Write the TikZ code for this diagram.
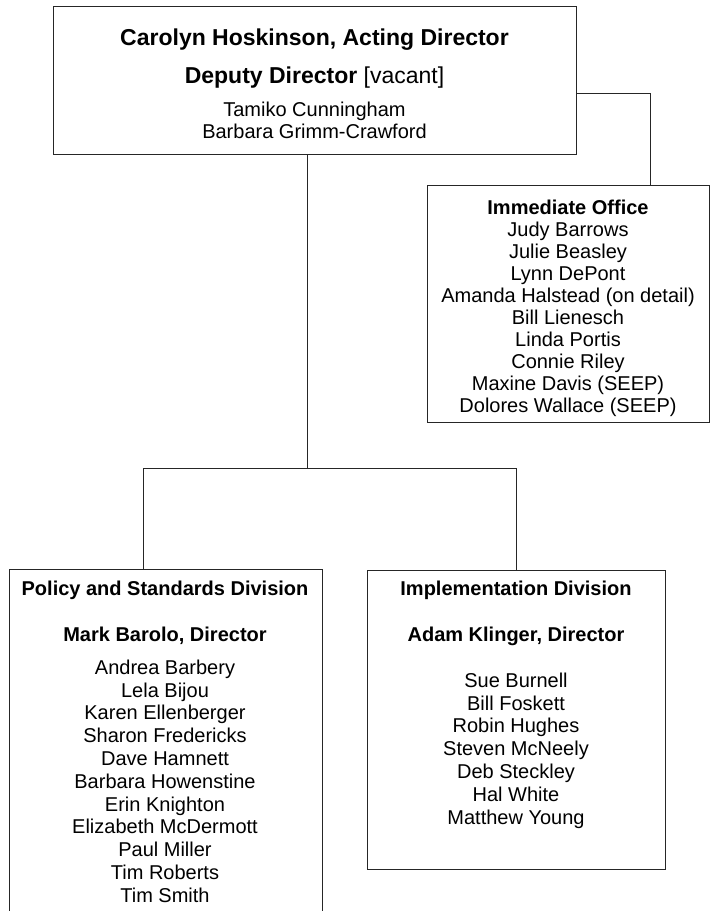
\documentclass[tikz,border=0pt]{standalone}
\usepackage{fontspec}
\setmainfont{Liberation Sans}
\begin{document}
\begin{tikzpicture}[x=1pt,y=-1pt,
  box/.style={draw=black!85, line width=1pt, rectangle, inner sep=0pt, outer sep=0pt},
  openbox/.style={rectangle, inner sep=0pt, outer sep=0pt},
  big/.style={font=\fontsize{23}{26}\selectfont, anchor=base, inner sep=0pt},
  bigb/.style={font=\fontsize{23}{26}\selectfont\bfseries, anchor=base, inner sep=0pt},
  txt/.style={font=\fontsize{20}{22}\selectfont, anchor=base, inner sep=0pt},
  hd/.style={font=\fontsize{20}{22}\selectfont\bfseries, anchor=base, inner sep=0pt},
  conn/.style={draw=black!85, line width=1pt}]
\fill[white] (0,0) rectangle (713,911);
\useasboundingbox (0,0) rectangle (713,911);

% top box
\node[box, minimum width=523pt, minimum height=148pt] (top) at (314.5,80) {};
\node[bigb] (t1) at (314.5,45.2) {Carolyn Hoskinson, Acting Director};
\node[big] (t2) at (314.5,83.2) {\textbf{Deputy Director} [vacant]};
\node[txt] (t3) at (314.5,116.2) {Tamiko Cunningham};
\node[txt] (t4) at (314.5,138.2) {Barbara Grimm-Crawford};

% immediate office
\node[box, minimum width=282pt, minimum height=237pt] (io) at (568,303.5) {};
\node[hd] (ioh) at (568,214.2) {Immediate Office};
\foreach \n [count=\i from 0] in {Judy Barrows, Julie Beasley, Lynn DePont,
  Amanda Halstead (on detail), Bill Lienesch, Linda Portis, Connie Riley,
  Maxine Davis (SEEP), Dolores Wallace (SEEP)}
  \node[txt] (io\i) at (568,{236.2+22*\i}) {\n};

% policy division (open at the bottom)
\node[openbox, minimum width=313pt, minimum height=343pt] (pol) at (165.5,740.5) {};
\draw[conn] (pol.south west) |- (pol.north east) -- (pol.south east);
\node[hd] (polh) at (165,595.2) {Policy and Standards Division};
\node[hd] (pold) at (165,641.2) {Mark Barolo, Director};
\foreach \n [count=\i from 0] in {Andrea Barbery, Lela Bijou, Karen Ellenberger,
  Sharon Fredericks, Dave Hamnett, Barbara Howenstine, Erin Knighton,
  Elizabeth McDermott, Paul Miller, Tim Roberts, Tim Smith}
  \node[txt] (pol\i) at (165,{674.2+22.8*\i}) {\n};

% implementation division
\node[box, minimum width=298pt, minimum height=299pt] (imp) at (516,719.5) {};
\node[hd] (imph) at (516,595.2) {Implementation Division};
\node[hd] (impd) at (516,641.2) {Adam Klinger, Director};
\foreach \n [count=\i from 0] in {Sue Burnell, Bill Foskett, Robin Hughes,
  Steven McNeely, Deb Steckley, Hal White, Matthew Young}
  \node[txt] (imp\i) at (516,{687.2+22.8*\i}) {\n};

% connectors
\coordinate (j) at (307,468);
\coordinate (pc) at (143,468);
\coordinate (ic) at (516,468);
\coordinate (rc) at (650,93);
\draw[conn] (j |- top.south) -- (j);
\draw[conn] (pc |- pol.north) -- (pc) -- (ic) -- (ic |- imp.north);
\draw[conn] (top.east |- rc) -- (rc) -- (rc |- io.north);
\end{tikzpicture}
\end{document}
